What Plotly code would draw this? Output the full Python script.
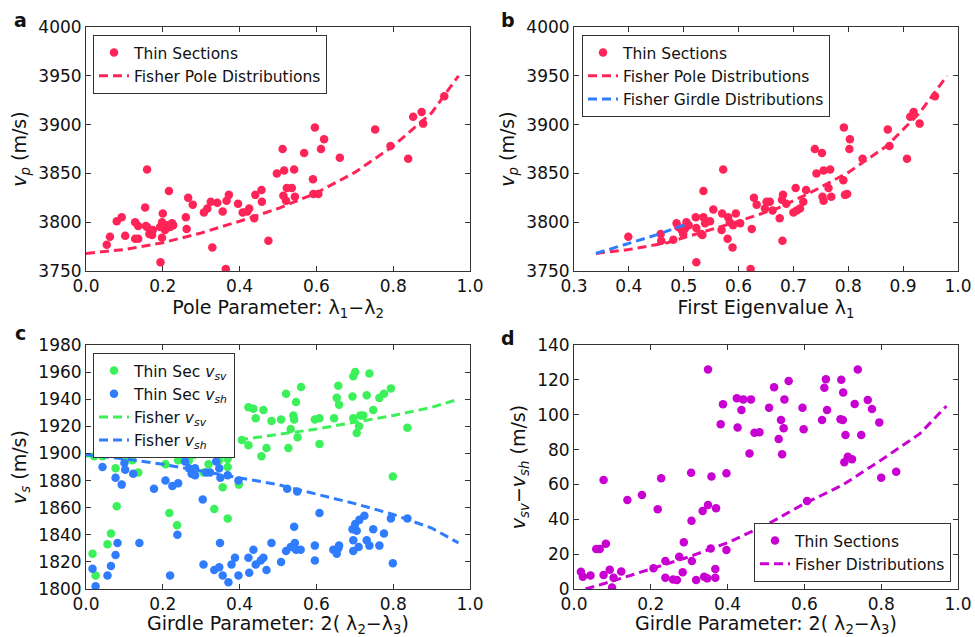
import plotly.graph_objects as go

# ---------------- data ----------------
# Panel a: thin sections, pole parameter vs vp
a_x = [0.054,0.0625,0.08,0.093,0.102,0.128,0.128,0.136,0.136,0.154,0.159,0.159,0.167,0.174,0.172,
       0.193,0.200,0.198,0.211,0.219,0.224,0.206,0.198,0.194,0.216,0.227,0.26,0.262,0.266,0.278,
       0.307,0.316,0.325,0.329,0.342,0.356,0.364,0.366,0.372,0.396,0.408,0.42,0.425,0.438,0.441,
       0.457,0.458,0.475,0.497,0.512,0.514,0.516,0.521,0.523,0.536,0.542,0.544,0.568,0.591,0.592,
       0.596,0.605,0.612,0.62,0.661,0.753,0.793,0.839,0.852,0.874,0.878,0.933,0.156,0.165]
a_y = [3777,3785,3801,3805,3786,3800,3783,3783,3796,3815,3854,3795,3790,3792,3787,
       3795,3809,3800,3797,3795,3799,3792,3784,3759,3832,3797,3805,3793,3825,3818,
       3810,3814,3821,3774,3820,3811,3752,3822,3828,3819,3810,3811,3814,3804,3828,
       3833,3821,3781,3850,3875,3827,3853,3822,3835,3835,3854,3826,3871,3844,3829,
       3897,3829,3875,3885,3866,3895,3878,3865,3908,3913,3901,3929,3796,3788]
fa_x = [0.0,0.1,0.2,0.3,0.4,0.5,0.6,0.7,0.8,0.9,0.97]
fa_y = [3768,3772,3779,3789,3801,3814,3830,3851,3878,3912,3950]

# Panel b: thin sections, first eigenvalue vs vp
b_x = [0.399,0.458,0.459,0.481,0.487,0.49,0.496,0.499,0.502,0.505,0.509,0.522,0.523,0.523,0.532,
       0.534,0.536,0.536,0.539,0.548,0.554,0.569,0.57,0.572,0.58,0.581,0.584,0.589,0.59,0.595,
       0.603,0.622,0.624,0.628,0.633,0.648,0.651,0.657,0.662,0.675,0.679,0.68,0.681,0.687,0.7,
       0.704,0.706,0.712,0.718,0.723,0.739,0.742,0.752,0.753,0.755,0.755,0.764,0.767,0.769,0.791,
       0.792,0.794,0.798,0.802,0.803,0.826,0.872,0.875,0.907,0.913,0.919,0.93,0.958]
b_y = [3785,3788,3781,3782,3799,3795,3792,3788,3793,3800,3797,3805,3759,3794,3788,
       3787,3805,3832,3799,3801,3813,3792,3809,3854,3783,3805,3800,3774,3797,3809,
       3799,3752,3793,3825,3818,3814,3821,3821,3812,3804,3823,3781,3828,3819,3810,
       3835,3812,3814,3821,3833,3875,3850,3871,3826,3853,3822,3835,3854,3826,3843,
       3897,3828,3829,3875,3885,3865,3895,3878,3865,3908,3913,3901,3929]
fbp_x = [0.34,0.4,0.47,0.53,0.6,0.67,0.73,0.8,0.87,0.93,0.98]
fbp_y = [3768,3772,3779,3789,3801,3814,3830,3851,3878,3912,3950]
fbg_x = [0.34,0.4,0.45,0.5,0.51]
fbg_y = [3768,3778,3787,3797,3800]

# Panel c: girdle parameter vs vs
csv_x = [0.017,0.025,0.056,0.065,0.08,0.077,0.102,0.121,0.136,0.021,0.043,0.207,0.217,0.237,0.24,
         0.256,0.268,0.282,0.306,0.319,0.334,0.347,0.356,0.369,0.369,0.369,0.398,0.406,0.423,0.423,
         0.436,0.442,0.462,0.457,0.47,0.483,0.508,0.521,0.527,0.533,0.54,0.542,0.547,0.551,0.56,
         0.608,0.596,0.608,0.646,0.653,0.657,0.659,0.694,0.696,0.701,0.696,0.705,0.711,0.714,0.722,
         0.731,0.738,0.748,0.764,0.776,0.794,0.799,0.837]
csv_y = [1826,1810,1833,1841,1861,1889,1895,1895,1886,1898,1898,1892,1856,1847,1895,
         1898,1895,1899,1886,1892,1859,1895,1875,1852,1890,1896,1877,1910,1906,1934,
         1933,1926,1932,1898,1904,1924,1925,1944,1904,1918,1928,1925,1938,1912,1949,
         1926,1925,1907,1926,1941,1950,1936,1942,1957,1960,1926,1915,1920,1928,1928,
         1943,1959,1932,1941,1944,1948,1883,1919]
csh_x = [0.017,0.025,0.043,0.056,0.065,0.077,0.082,0.077,0.093,0.1,0.102,0.123,0.139,0.177,0.207,
         0.219,0.225,0.24,0.238,0.258,0.268,0.275,0.284,0.284,0.304,0.306,0.313,0.323,0.334,0.339,
         0.347,0.349,0.347,0.35,0.356,0.369,0.371,0.379,0.388,0.397,0.397,0.423,0.425,0.436,0.442,
         0.455,0.462,0.47,0.483,0.508,0.521,0.524,0.533,0.542,0.544,0.55,0.547,0.559,0.596,0.596,
         0.608,0.644,0.653,0.657,0.659,0.694,0.696,0.696,0.701,0.705,0.71,0.712,0.725,0.731,0.738,
         0.748,0.764,0.776,0.794,0.799,0.837]
csh_y = [1815,1802,1890,1810,1817,1825,1834,1882,1877,1893,1888,1885,1834,1874,1880,
         1810,1876,1878,1840,1894,1889,1885,1884,1889,1866,1818,1886,1886,1814,1894,
         1816,1834,1889,1882,1810,1884,1805,1818,1823,1810,1880,1823,1812,1829,1818,
         1821,1823,1814,1834,1820,1828,1874,1831,1846,1834,1872,1829,1829,1832,1821,
         1856,1829,1826,1830,1832,1844,1836,1828,1848,1843,1831,1851,1854,1836,1832,
         1844,1832,1841,1852,1819,1852]
fc_x = [0.0,0.1,0.2,0.3,0.4,0.5,0.6,0.7,0.8,0.9,0.97]
fcsv_y = [1898,1901,1904,1907,1910,1914,1918,1923,1928,1934,1940]
fcsh_y = [1899,1896,1892,1887,1882,1877,1870,1863,1855,1845,1834]

# Panel d: girdle parameter vs vsv - vsh
d_x = [0.018,0.023,0.043,0.058,0.067,0.077,0.077,0.083,0.093,0.099,0.103,0.123,0.139,0.177,0.207,
       0.218,0.227,0.238,0.238,0.258,0.268,0.274,0.283,0.286,0.305,0.306,0.307,0.318,0.335,0.339,
       0.349,0.349,0.347,0.356,0.358,0.37,0.368,0.368,0.382,0.388,0.397,0.397,0.424,0.426,0.436,
       0.441,0.457,0.461,0.47,0.483,0.508,0.521,0.533,0.539,0.542,0.546,0.548,0.559,0.595,0.598,
       0.607,0.646,0.652,0.656,0.659,0.694,0.696,0.7,0.701,0.704,0.707,0.713,0.724,0.731,0.739,
       0.748,0.765,0.776,0.795,0.8,0.839]
d_y = [9.9,7.1,7.7,23,23,62.5,8,26,11,0.8,6.5,10,51,54,11.9,
       45.7,63.5,16,6.5,5.5,5.2,18.5,9.6,26.8,66.7,39.2,16,5.2,44.8,7,
       48.2,126,6.1,23.3,64.5,46.3,11.5,6.5,94.5,106,66.4,22.4,109.4,92.6,102.7,
       108.8,77.8,108.8,89.7,89.9,104,115.7,86,97,77.3,92.2,108.8,119.3,104,91.6,
       50.5,97,115.5,120.3,102.7,97.4,120,97,112.8,72.7,88.4,75.9,74.4,106.2,126,
       88.4,108.4,103.3,95.6,63.9,67.3]
fd_x = [0.03,0.1,0.2,0.3,0.4,0.5,0.6,0.7,0.8,0.9,0.97]
fd_y = [0,4.5,11.5,18.5,26.6,36.7,49,59.7,74,89,105]

# ---------------- style ----------------
RED = "#ff2458"
GREEN = "#3cf05a"
BLUE = "#2f7cff"
MAG = "#c800d2"
FONT = "DejaVu Sans"
DASH = "9px,5px"
W, H = 975, 637

fig = go.Figure()

def dots(x, y, color, name, ax, leg):
    fig.add_trace(go.Scatter(x=x, y=y, mode="markers", name=name,
                             marker=dict(color=color, size=8.5, line=dict(width=0)),
                             xaxis=ax[0], yaxis=ax[1], legend=leg))

def dline(x, y, color, name, ax, leg):
    fig.add_trace(go.Scatter(x=x, y=y, mode="lines", name=name,
                             line=dict(color=color, width=3, dash=DASH),
                             xaxis=ax[0], yaxis=ax[1], legend=leg))

dots(a_x, a_y, RED, "Thin Sections", ("x", "y"), "legend")
dline(fa_x, fa_y, RED, "Fisher Pole Distributions", ("x", "y"), "legend")

dots(b_x, b_y, RED, "Thin Sections", ("x2", "y2"), "legend2")
dline(fbp_x, fbp_y, RED, "Fisher Pole Distributions", ("x2", "y2"), "legend2")
dline(fbg_x, fbg_y, BLUE, "Fisher Girdle Distributions", ("x2", "y2"), "legend2")

dots(csv_x, csv_y, GREEN, "Thin Sec <i>v<sub>sv</sub></i>", ("x3", "y3"), "legend3")
dots(csh_x, csh_y, BLUE, "Thin Sec <i>v<sub>sh</sub></i>", ("x3", "y3"), "legend3")
dline(fc_x, fcsv_y, GREEN, "Fisher <i>v<sub>sv</sub></i>", ("x3", "y3"), "legend3")
dline(fc_x, fcsh_y, BLUE, "Fisher <i>v<sub>sh</sub></i>", ("x3", "y3"), "legend3")

dots(d_x, d_y, MAG, "Thin Sections", ("x4", "y4"), "legend4")
dline(fd_x, fd_y, MAG, "Fisher Distributions", ("x4", "y4"), "legend4")

def px_x(p):
    return p / W

def px_y(p):
    return 1 - p / H

common = dict(showline=True, linecolor="#333", linewidth=1, mirror="ticks", ticks="inside",
              ticklen=5, tickcolor="#333", showgrid=False, zeroline=False, automargin=False,
              tickfont=dict(family=FONT, size=17, color="#111"),
              title_font=dict(family=FONT, size=19, color="#111"))

left = [px_x(86), px_x(470)]
right = [px_x(574), px_x(958)]
top = [px_y(271), px_y(27)]
bot = [px_y(589), px_y(345)]

fig.update_layout(
    width=W, height=H, margin=dict(l=0, r=0, t=0, b=0, autoexpand=False),
    paper_bgcolor="white", plot_bgcolor="white",
    font=dict(family=FONT, color="#111"),
    xaxis=dict(domain=left, anchor="y", range=[0, 1], dtick=0.2, tickformat=".1f",
               title=dict(text="Pole Parameter: λ<sub>1</sub>−λ<sub>2</sub>", standoff=4), **common),
    yaxis=dict(domain=top, anchor="x", range=[3750, 4000], dtick=50,
               title=dict(text="<i>v<sub>p</sub></i> (m/s)", standoff=6), **common),
    xaxis2=dict(domain=right, anchor="y2", range=[0.3, 1.0], dtick=0.1, tickformat=".1f",
                title=dict(text="First Eigenvalue λ<sub>1</sub>", standoff=4), **common),
    yaxis2=dict(domain=top, anchor="x2", range=[3750, 4000], dtick=50,
                title=dict(text="<i>v<sub>p</sub></i> (m/s)", standoff=6), **common),
    xaxis3=dict(domain=left, anchor="y3", range=[0, 1], dtick=0.2, tickformat=".1f",
                title=dict(text="Girdle Parameter: 2( λ<sub>2</sub>−λ<sub>3</sub>)", standoff=4), **common),
    yaxis3=dict(domain=bot, anchor="x3", range=[1800, 1980], dtick=20,
                title=dict(text="<i>v<sub>s</sub></i> (m/s)", standoff=6), **common),
    xaxis4=dict(domain=right, anchor="y4", range=[0, 1], dtick=0.2, tickformat=".1f",
                title=dict(text="Girdle Parameter: 2( λ<sub>2</sub>−λ<sub>3</sub>)", standoff=4), **common),
    yaxis4=dict(domain=bot, anchor="x4", range=[0, 140], dtick=20,
                title=dict(text="<i>v<sub>sv</sub></i>−<i>v<sub>sh</sub></i> (m/s)", standoff=6), **common),
)

legbase = dict(bgcolor="white", bordercolor="#333", borderwidth=1,
               font=dict(family=FONT, size=15.5, color="#111"), xanchor="left", yanchor="top",
               tracegroupgap=0)
fig.update_layout(
    legend=dict(x=px_x(93), y=px_y(35), **legbase),
    legend2=dict(x=px_x(582), y=px_y(35), **legbase),
    legend3=dict(x=px_x(93), y=px_y(353), **legbase),
    legend4=dict(x=px_x(951), y=px_y(582), **{**legbase, "xanchor": "right", "yanchor": "bottom"}),
)

for txt, x, y in [("a", 20, 20), ("b", 508, 20), ("c", 20, 333), ("d", 508, 338)]:
    fig.add_annotation(text=f"<b>{txt}</b>", x=px_x(x), y=px_y(y), xref="paper", yref="paper",
                       showarrow=False, font=dict(family=FONT, size=19, color="#111"),
                       xanchor="center", yanchor="middle")

fig.write_html("out.html", config={"displayModeBar": False},
               post_script="document.body.style.margin='0px';document.body.style.overflow='hidden';")
